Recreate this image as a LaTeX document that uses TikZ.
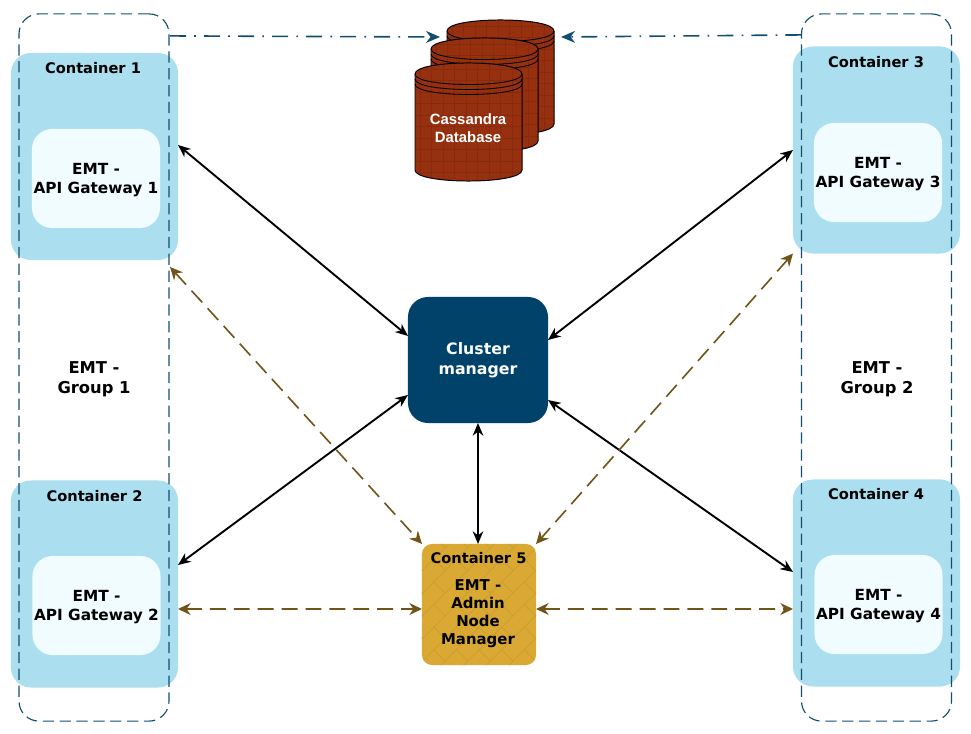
\documentclass[tikz,border=0pt]{standalone}
\usepackage{fontspec}
\setmainfont{DejaVu Sans}
\newfontfamily\dbfont{Liberation Sans}
\usetikzlibrary{arrows.meta,positioning,calc}
\definecolor{PaleBlue}{RGB}{171,223,240}
\definecolor{IceWhite}{RGB}{240,252,255}
\definecolor{DeepBlue}{RGB}{0,66,105}
\definecolor{TealLine}{RGB}{18,78,112}
\definecolor{BrownLine}{RGB}{112,84,24}
\definecolor{GoldFill}{RGB}{217,169,52}
\definecolor{GoldLine}{RGB}{204,157,46}
\definecolor{RustFill}{RGB}{150,48,14}
\definecolor{RustLine}{RGB}{134,43,13}
\tikzset{
  x=0.025cm,y=-0.025cm,
  container/.style={fill=PaleBlue,rounded corners=0.5cm,inner sep=0pt,outer sep=0pt,
    minimum width=4.175cm,minimum height=5.175cm},
  gateway/.style={fill=IceWhite,rounded corners=0.5cm,inner sep=0pt,outer sep=0pt,
    minimum width=3.2cm,minimum height=2.475cm,align=center,
    font=\bfseries\fontsize{10.9}{13.5}\selectfont},
  caption/.style={font=\bfseries\fontsize{10.4}{13.4}\selectfont},
  grouplabel/.style={align=center,font=\bfseries\fontsize{11.6}{14.2}\selectfont},
  groupbox/.style={draw=TealLine,dashed,dash pattern=on 8pt off 4pt,rounded corners=0.5cm,
    line width=0.8pt,inner sep=0pt,outer sep=0pt,minimum width=3.75cm,minimum height=17.675cm},
  manager/.style={fill=DeepBlue,rounded corners=0.5cm,inner sep=0pt,outer sep=0pt,
    minimum width=3.5cm,minimum height=3.15cm,text=white,align=center,
    font=\bfseries\fontsize{11.2}{14.2}\selectfont},
  adminbox/.style={fill=GoldFill,rounded corners=0.25cm,inner sep=0pt,outer sep=0pt,
    minimum width=2.85cm,minimum height=3.025cm},
  solidlink/.style={{Stealth[length=9pt,width=7.5pt]}-{Stealth[length=9pt,width=7.5pt]},line width=1.35pt,black},
  brownlink/.style={{Stealth[length=9pt,width=8.5pt]}-{Stealth[length=9pt,width=8.5pt]},line width=1.15pt,BrownLine,
    dash pattern=on 11.3pt off 5.7pt},
  teallink/.style={-{Stealth[length=10pt,width=8.5pt]},line width=1.15pt,TealLine,
    dash pattern=on 11.4pt off 5.8pt on 1.2pt off 5.8pt}
}
% one drum of the database stack: left edge, top edge, bottom edge
\newcommand{\dbdrum}[3]{
  \pgfmathsetmacro{\dbr}{#1+107}
  \pgfmathsetmacro{\dbc}{#2+11}
  \pgfmathsetmacro{\dbb}{#3-11}
  \begin{scope}
    \clip (#1,\dbc) .. controls (#1,#2-3.7) and (\dbr,#2-3.7) .. (\dbr,\dbc) -- (\dbr,\dbb)
      .. controls (\dbr,#3+3.7) and (#1,#3+3.7) .. (#1,\dbb) -- cycle;
    \fill[RustFill] (#1-2,#2-5) rectangle (\dbr+2,#3+5);
    \foreach \k in {0,...,10}{
      \draw[RustLine,line width=0.5pt] (#1+5+\k*11.5,#2-5) -- (#1+5+\k*11.5,#3+5);
      \draw[RustLine,line width=0.5pt] (#1-2,#2+6+\k*11.5) -- (\dbr+2,#2+6+\k*11.5);
    }
  \end{scope}
  \draw[black,line width=0.7pt] (#1,\dbc) .. controls (#1,#2-3.7) and (\dbr,#2-3.7) .. (\dbr,\dbc) -- (\dbr,\dbb)
    .. controls (\dbr,#3+3.7) and (#1,#3+3.7) .. (#1,\dbb) -- cycle;
  \foreach \s in {0,5,10}{
    \draw[black,line width=0.6pt] (#1,\dbc+\s) .. controls (#1,#2+25+\s) and (\dbr,#2+25+\s) .. (\dbr,\dbc+\s);
  }
}

\begin{document}
\begin{tikzpicture}
  \useasboundingbox (0,0) rectangle (971,734);

  % containers
  \node[container] (cont1) at (94.5,156.5) {};
  \node[container] (cont2) at (94.5,584) {};
  \node[container] (cont3) at (876.5,150) {};
  \node[container] (cont4) at (876.5,583) {};

  \node[gateway] (gw1) at (96,178.5) {\rule{0pt}{10.8pt}EMT -\\API Gateway 1};
  \node[gateway] (gw2) at (96.5,605.5) {\rule{0pt}{10.8pt}EMT -\\API Gateway 2};
  \node[gateway] (gw3) at (878,172.5) {\rule{0pt}{10.8pt}EMT -\\API Gateway 3};
  \node[gateway] (gw4) at (878.5,604.5) {\rule{0pt}{10.8pt}EMT -\\API Gateway 4};

  \node[caption] (cap1) at (93,68.5) {Container 1};
  \node[caption] (cap2) at (94.5,496.5) {Container 2};
  \node[caption] (cap3) at (876,62.5) {Container 3};
  \node[caption] (cap4) at (876,494.5) {Container 4};

  % groups
  \node[groupbox] (grp1) at (94,367.5) {};
  \node[groupbox] (grp2) at (876.5,367.5) {};
  \node[grouplabel] (lab1) at (94,379) {EMT -\\Group 1};
  \node[grouplabel] (lab2) at (877,379) {EMT -\\Group 2};

  % database
  \dbdrum{447}{20}{135}
  \dbdrum{431}{38}{152}
  \dbdrum{415}{63}{181}
  \node[text=white,align=center,font=\dbfont\bfseries\fontsize{10.6}{13}\selectfont] (dbtext) at (468,128) {Cassandra\\Database};
  \coordinate (dbleft) at (440,37);
  \coordinate (dbright) at (561,37);

  % centre
  \node[manager] (mgr) at (478,360) {Cluster\\manager};
  \node[adminbox] (cont5) at (479,604.5) {};
  \begin{scope}
    \clip[rounded corners=0.25cm] (cont5.north west) rectangle (cont5.south east);
    \begin{scope}[rotate around={45:(479,604.5)},GoldLine,line width=0.5pt]
      \foreach \r in {-6,...,6}{
        \draw (479-110,604.5+\r*16) -- (479+110,604.5+\r*16);
        \foreach \c in {-4,...,4}{
          \draw ({479+\c*32+mod(\r+6,2)*16},604.5+\r*16) -- ++(0,16);
        }
      }
    \end{scope}
  \end{scope}
  \node[caption] (cap5) at (478.5,558.5) {Container 5};
  \node[align=center,font=\bfseries\fontsize{10.6}{12.8}\selectfont] (admin) at (478,613.5) {EMT -\\Admin\\Node\\Manager};

  % links
  \draw[solidlink] ([shift={(0,-11.5)}]cont1.east) -- ([shift={(0,-24)}]mgr.west);
  \draw[solidlink] (cont3.west) -- ([shift={(0,-20)}]mgr.east);
  \draw[solidlink] ([shift={(0,-19)}]cont2.east) -- ([shift={(0,35)}]mgr.west);
  \draw[solidlink] ([shift={(0,-11)}]cont4.west) -- ([shift={(0,40)}]mgr.east);
  \draw[solidlink] (mgr.south) -- ([shift={(-1,0)}]cont5.north);

  \draw[brownlink] ([shift={(-8,7)}]cont1.south east) -- (cont5.north west);
  \draw[brownlink] (cont3.south west) -- (cont5.north east);
  \draw[brownlink] ([shift={(0,25)}]cont2.east) -- ([shift={(0,4.5)}]cont5.west);
  \draw[brownlink] ([shift={(0,4.5)}]cont5.east) -- ([shift={(0,26)}]cont4.west);

  \draw[teallink] ([shift={(1,22)}]grp1.north east) -- (dbleft);
  \draw[teallink] ([shift={(0,21)}]grp2.north west) -- (dbright);
\end{tikzpicture}
\end{document}
